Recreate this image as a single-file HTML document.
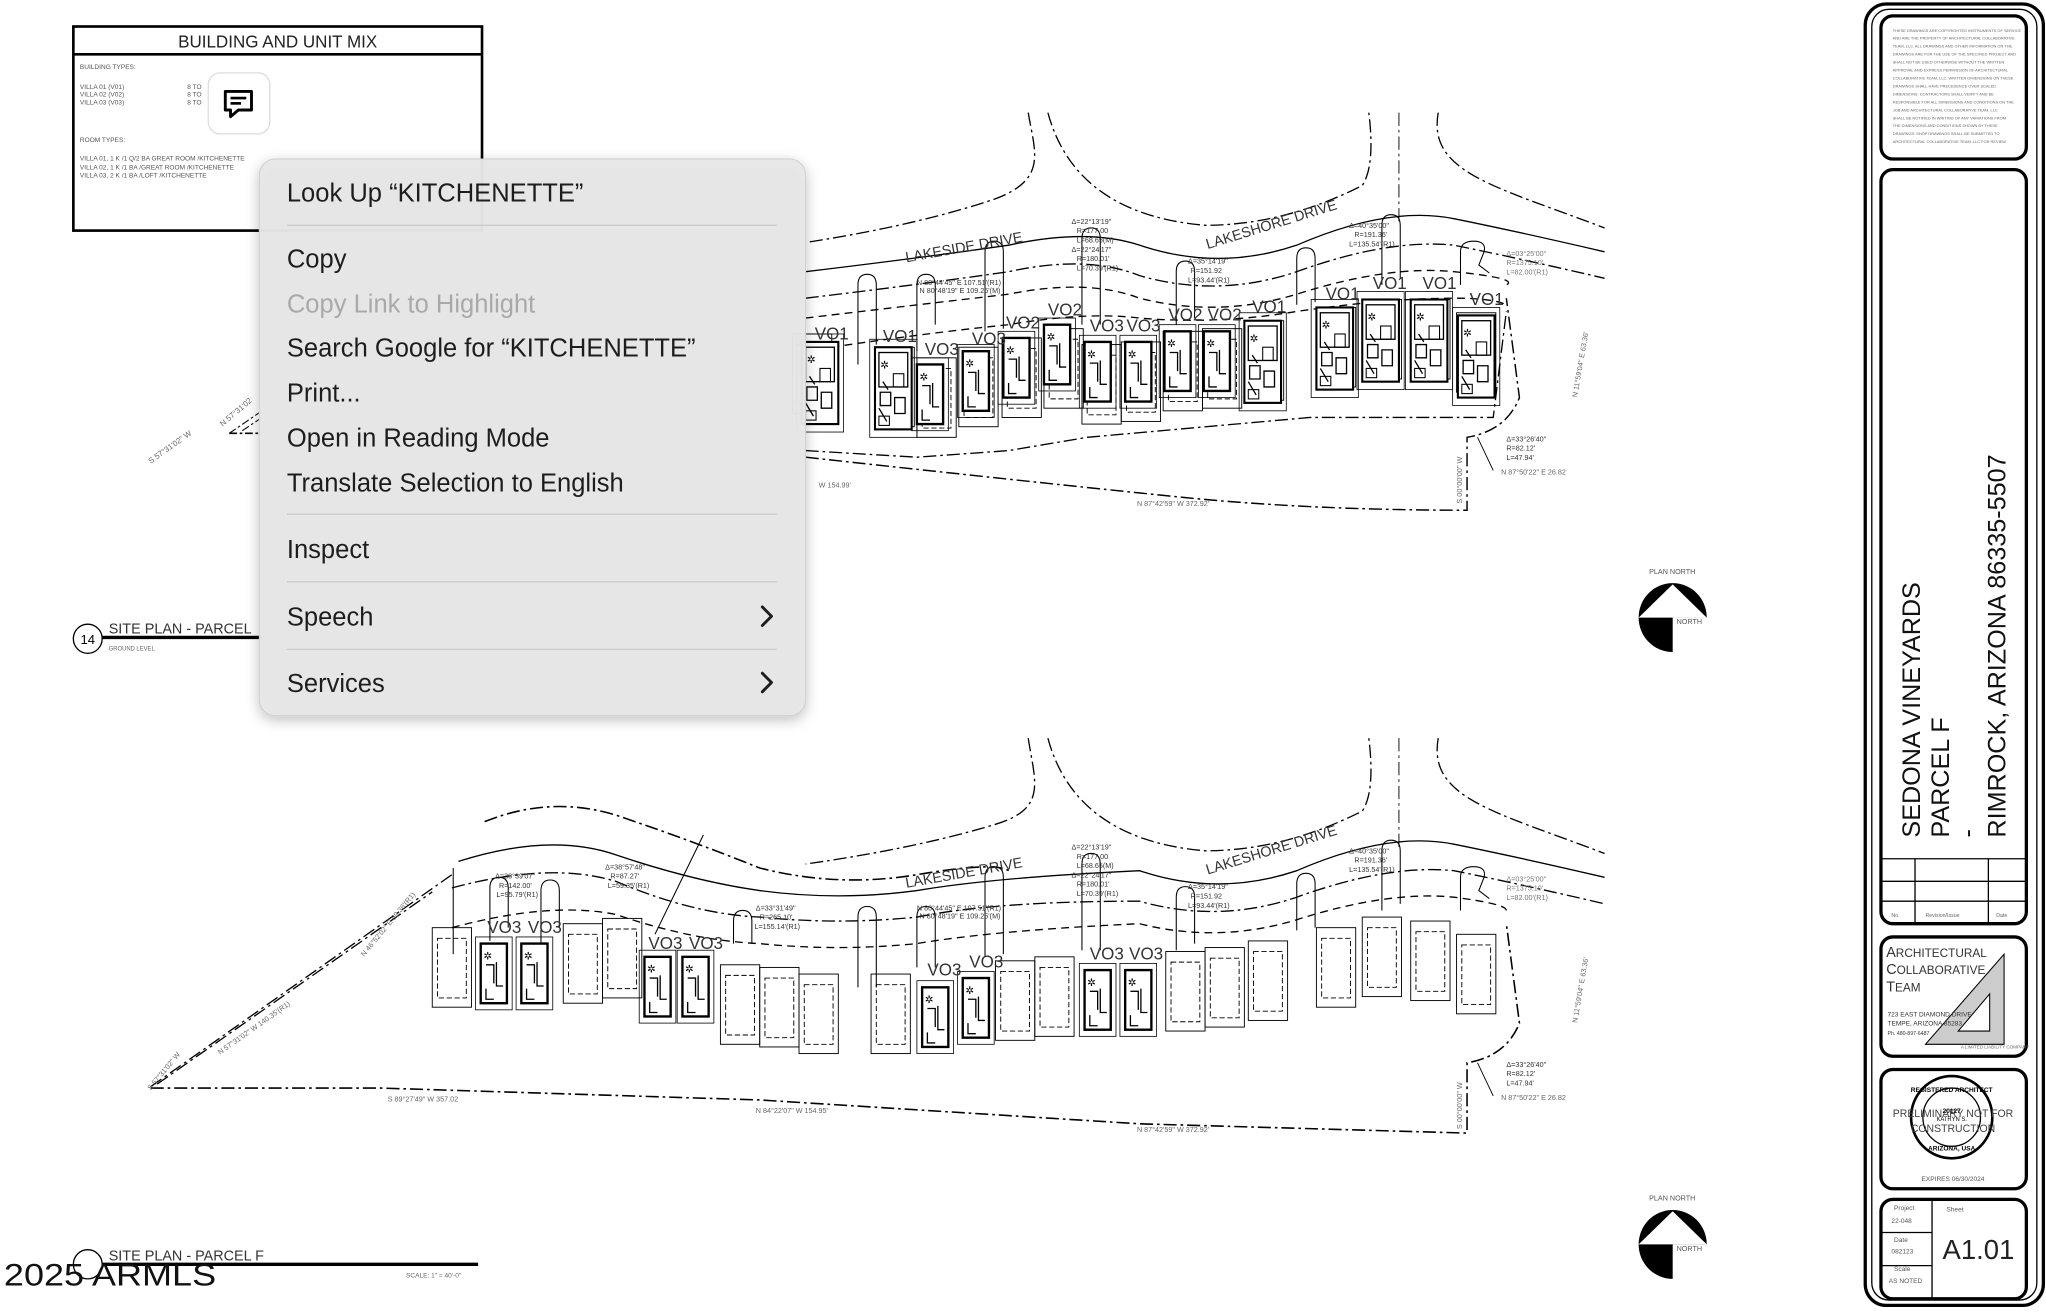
<!DOCTYPE html>
<html><head><meta charset="utf-8"><style>
html,body{margin:0;padding:0;background:#fff;width:2046px;height:1312px;overflow:hidden}
svg{display:block}
text{font-family:"Liberation Sans",sans-serif}
</style></head><body>
<svg width="2046" height="1312" viewBox="0 0 1562 990" preserveAspectRatio="none" xmlns="http://www.w3.org/2000/svg">
<defs>
<filter id="sh" x="-10%" y="-10%" width="120%" height="125%"><feDropShadow dx="0" dy="3" stdDeviation="5" flood-color="#000" flood-opacity="0.25"/></filter>
<g id="b">
 <rect x="0" y="0" width="28" height="62" fill="#fff" stroke="#000" stroke-width="1.6"/>
 <rect x="-4" y="-6" width="36" height="74" fill="none" stroke="#000" stroke-width="0.6"/>
 <rect x="3" y="4" width="22" height="26" fill="none" stroke="#000" stroke-width="1"/>
 <text x="4" y="16" font-size="8">✲</text>
 <rect x="14" y="20" width="8" height="10" fill="none" stroke="#000" stroke-width="0.8"/>
 <path d="M4 34 h8 v10 h-8 z M15 38 h8 v12 h-8z M3 46 l6 10 M6 26 l4 6" fill="none" stroke="#000" stroke-width="1"/>
 <rect x="3" y="52" width="8" height="7" fill="none" stroke="#000" stroke-width="0.8"/>
</g>
<g id="bs">
 <rect x="0" y="0" width="20" height="45" fill="#fff" stroke="#000" stroke-width="1.8"/>
 <rect x="-4" y="-5" width="28" height="55" fill="none" stroke="#000" stroke-width="0.6"/>
 <text x="2" y="12" font-size="8">✲</text>
 <path d="M4 16 h6 v14 M12 14 v18 h5 M4 34 v8 h6" fill="none" stroke="#000" stroke-width="1"/>
</g>
<g id="lot">
 <rect x="0" y="0" width="30" height="60" fill="none" stroke="#000" stroke-width="0.7"/>
 <rect x="4" y="8" width="22" height="45" fill="none" stroke="#000" stroke-width="0.7" stroke-dasharray="4 2"/>
</g>
</defs>

<!-- BUILDING AND UNIT MIX table -->
<rect x="56" y="20" width="312" height="154" fill="#fff" stroke="#000" stroke-width="2"/>
<line x1="56" y1="41" x2="368" y2="41" stroke="#000" stroke-width="2"/>
<text x="212" y="36" font-size="13" text-anchor="middle" fill="#222">BUILDING AND UNIT MIX</text>
<g font-size="5" fill="#555">
<text x="61" y="52">BUILDING TYPES:</text>
<text x="61" y="67">VILLA 01 (V01)</text><text x="143" y="67">8 TO</text>
<text x="61" y="73">VILLA 02 (V02)</text><text x="143" y="73">8 TO</text>
<text x="61" y="79">VILLA 03 (V03)</text><text x="143" y="79">8 TO</text>
<text x="61" y="107">ROOM TYPES:</text>
<text x="61" y="121">VILLA 01, 1 K /1 Q/2 BA GREAT ROOM /KITCHENETTE</text>
<text x="61" y="128">VILLA 02, 1 K /1 BA /GREAT ROOM /KITCHENETTE</text>
<text x="61" y="134">VILLA 03, 2 K /1 BA /LOFT /KITCHENETTE</text>
</g>
<rect x="159" y="55" width="47" height="46" rx="9" fill="#fff" stroke="#ddd"/>
<path d="M172 69 h20 v14 h-10 l-6 5 v-5 h-4 z" fill="none" stroke="#000" stroke-width="2.2" stroke-linejoin="round"/>
<line x1="176" y1="74" x2="188" y2="74" stroke="#000" stroke-width="2"/>
<line x1="176" y1="78" x2="184" y2="78" stroke="#000" stroke-width="2"/>

<!-- Left leftover drawing in top -->
<path d="M175 327 L200 310 M185 325 L200 315" stroke="#000" stroke-width="0.8" stroke-dasharray="6 2 2 2"/>
<line x1="175" y1="327" x2="200" y2="327" stroke="#000" stroke-width="1.2" stroke-dasharray="6 2 2 2"/>
<text x="115" y="350" font-size="6" fill="#666" transform="rotate(-35 115 350)">S 57°31'02" W</text>
<text x="170" y="322" font-size="6" fill="#666" transform="rotate(-40 170 322)">N 57°31'02</text>
<circle cx="67" cy="482" r="11" fill="none" stroke="#000" stroke-width="1"/>
<text x="67" y="486" font-size="10" text-anchor="middle">14</text>
<text x="83" y="478" font-size="11" fill="#333">SITE PLAN - PARCEL</text>
<line x1="78" y1="481" x2="200" y2="481" stroke="#000" stroke-width="2.5"/>
<text x="83" y="491" font-size="4.5" fill="#666">GROUND LEVEL</text>

<!-- ===== TOP DRAWING ===== -->
<g fill="none" stroke="#000" stroke-width="1">
 <path d="M785 85 C790 115 800 135 760 150 Q700 170 615 183" stroke-dasharray="10 3 2 3"/>
 <path d="M800 85 C815 140 860 165 920 170 Q980 170 1040 140 Q1050 125 1045 85" stroke-dasharray="10 3 2 3"/>
 <path d="M1068 85 L1068 170" stroke-dasharray="10 3 2 3" stroke-width="0.7"/>
 <path d="M1098 85 C1090 130 1140 140 1225 172" stroke-dasharray="10 3 2 3"/>
 <path d="M615 205 Q700 195 770 185 Q830 172 870 185 Q930 205 990 185 Q1060 155 1110 165 Q1160 175 1225 190"/>
 <path d="M615 225 Q700 215 770 205 Q830 192 870 208 Q930 225 990 205 Q1060 180 1110 185 Q1160 195 1225 210" stroke-dasharray="10 3 2 3"/>
 <path d="M615 240 Q700 230 770 222 Q830 210 870 225 Q930 240 990 222 Q1060 200 1110 205 Q1160 210 1150 215" stroke-dasharray="6 4"/>
 <path d="M615 265 Q700 252 770 245 Q830 235 870 240 Q930 245 990 235 Q1060 225 1110 225 Q1140 225 1150 230" stroke-dasharray="6 4"/>
 <path d="M615 340 L700 345 L770 340 L830 330 L1000 315 L1140 315 L1150 235" stroke-dasharray="10 3 2 3"/>
 <path d="M615 345 Q800 365 900 375 T1120 385 L1120 330 Q1150 325 1160 300 L1150 225" stroke-dasharray="10 3 2 3" stroke-width="1.1"/>
 <path d="M1128 330 L1140 355" stroke-width="0.7"/>
</g>
<!-- driveways -->
<g fill="none" stroke="#000" stroke-width="0.8">
 <path d="M655 275 V215 q0 -8 7 -8 q7 0 7 8 V260"/>
 <path d="M700 265 V215 q0 -8 7 -8 q7 0 7 8 V245"/>
 <path d="M752 250 V190 q0 -8 7 -8 q7 0 7 8 V248"/>
 <path d="M826 245 V180 q0 -8 7 -8 q7 0 7 8 V245"/>
 <path d="M898 245 V205 q0 -8 7 -8 q7 0 7 8 V240"/>
 <path d="M990 230 V195 q0 -8 7 -8 q7 0 7 8 V228"/>
 <path d="M1055 215 V170 q0 -8 7 -8 q7 0 7 8 V210"/>
 <path d="M1115 215 V190 q0 -8 10 -8 q10 0 8 8 l-4 10 l8 6"/>
</g>
<!-- lots -->
<g>
 <use href="#lot" x="605" y="252"/><use href="#lot" x="668" y="262"/><use href="#lot" x="700" y="270"/><use href="#lot" x="732" y="262"/>
 <use href="#lot" x="765" y="255"/><use href="#lot" x="797" y="248"/><use href="#lot" x="826" y="260"/><use href="#lot" x="856" y="258"/>
 <use href="#lot" x="888" y="250"/><use href="#lot" x="918" y="248"/><use href="#lot" x="950" y="242"/><use href="#lot" x="1005" y="232"/>
 <use href="#lot" x="1040" y="226"/><use href="#lot" x="1077" y="226"/><use href="#lot" x="1112" y="236"/>
</g>
<g>
 <use href="#b" x="612" y="258"/><use href="#b" x="668" y="262"/><use href="#bs" x="700" y="275"/><use href="#bs" x="735" y="265"/>
 <use href="#bs" x="766" y="255"/><use href="#bs" x="797" y="245"/><use href="#bs" x="828" y="258"/><use href="#bs" x="859" y="258"/>
 <use href="#bs" x="889" y="250"/><use href="#bs" x="919" y="250"/><use href="#b" x="950" y="242"/><use href="#b" x="1005" y="232"/>
 <use href="#b" x="1040" y="226"/><use href="#b" x="1077" y="226"/><use href="#b" x="1113" y="238"/>
</g>
<g font-size="13" fill="#333">
 <text x="622" y="256">VO1</text><text x="674" y="258">VO1</text><text x="706" y="268">VO3</text><text x="742" y="260">VO3</text>
 <text x="768" y="248">VO2</text><text x="800" y="238">VO2</text><text x="832" y="250">VO3</text><text x="860" y="250">VO3</text>
 <text x="892" y="242">VO2</text><text x="922" y="242">VO2</text><text x="956" y="236">VO1</text><text x="1012" y="226">VO1</text>
 <text x="1048" y="218">VO1</text><text x="1086" y="218">VO1</text><text x="1122" y="230">VO1</text>
</g>
<g font-size="11" fill="#333">
 <text x="692" y="198" transform="rotate(-10 692 198)">LAKESIDE DRIVE</text>
 <text x="922" y="188" transform="rotate(-17 922 188)">LAKESHORE DRIVE</text>
</g>
<g font-size="5.5" fill="#333">
 <text x="700" y="215">N 80°44'45" E   107.51'(R1)</text><text x="702" y="221">N 80°48'19" E   109.25'(M)</text>
 <text x="818" y="169">Δ=22°13'19"</text><text x="822" y="176">R=177.00</text><text x="822" y="183">L=68.65(M)</text>
 <text x="818" y="190">Δ=22°24'17"</text><text x="822" y="197">R=180.01'</text><text x="822" y="204">L=70.39'(R1)</text>
 <text x="907" y="199">Δ=35°14'19"</text><text x="909" y="206">R=151.92</text><text x="907" y="213">L=93.44'(R1)</text>
 <text x="1030" y="172">Δ=40°35'00"</text><text x="1034" y="179">R=191.36'</text><text x="1030" y="186">L=135.54'(R1)</text>
 <text x="1150" y="193" fill="#777">Δ=03°25'00"</text><text x="1150" y="200" fill="#777">R=1375.10'</text><text x="1150" y="207" fill="#777">L=82.00'(R1)</text>
 <text x="1150" y="333">Δ=33°26'40"</text><text x="1150" y="340">R=82.12'</text><text x="1150" y="347">L=47.94'</text>
 <text x="1146" y="358" fill="#666">N 87°50'22" E  26.82</text>
 <text x="868" y="382" fill="#666">N 87°42'59" W  372.92'</text>
 <text x="625" y="368" fill="#666">W  154.99'</text>
 <text x="1204" y="300" fill="#666" transform="rotate(-80 1204 300)">N 11°59'04" E  63.36'</text>
 <text x="1116" y="380" fill="#666" transform="rotate(-90 1116 380)">S 00°00'00" W</text>
</g>

<!-- PLAN NORTH top -->
<text x="1259" y="433" font-size="5.5" fill="#555">PLAN NORTH</text>
<g transform="translate(1277,466)">
 <circle r="26" fill="#000"/>
 <rect x="0" y="0" width="28" height="28" fill="#fff"/>
 <polygon points="0,-25 -26,0 26,0" fill="#fff"/>
 <text x="3" y="5" font-size="5.5" fill="#555">NORTH</text>
</g>
<text x="1259" y="906" font-size="5.5" fill="#555">PLAN NORTH</text>
<g transform="translate(1277,939)">
 <circle r="26" fill="#000"/>
 <rect x="0" y="0" width="28" height="28" fill="#fff"/>
 <polygon points="0,-25 -26,0 26,0" fill="#fff"/>
 <text x="3" y="5" font-size="5.5" fill="#555">NORTH</text>
</g>

<!-- ===== BOTTOM DRAWING ===== -->
<g fill="none" stroke="#000" stroke-width="1">
 <path d="M785 557 C790 590 800 610 760 622 Q700 640 615 652" stroke-dasharray="10 3 2 3"/>
 <path d="M800 557 C815 612 860 637 920 642 Q980 642 1040 612 Q1050 597 1045 557" stroke-dasharray="10 3 2 3"/>
 <path d="M1068 557 L1068 642" stroke-dasharray="10 3 2 3" stroke-width="0.7"/>
 <path d="M1098 557 C1090 602 1140 612 1225 644" stroke-dasharray="10 3 2 3"/>
 <path d="M370 620 Q420 600 470 615 Q530 635 580 655 Q640 670 700 660 Q760 650 770 657" stroke-dasharray="10 3 2 3" stroke-width="1.2"/>
 <path d="M350 650 Q420 628 470 645 Q530 665 580 672 Q640 680 700 672 Q760 662 870 657 Q930 677 990 657 Q1060 627 1110 637 Q1160 647 1225 662"/>
 <path d="M345 670 Q420 650 470 665 Q530 690 580 692 Q640 698 700 692 Q760 680 870 680 Q930 697 990 677 Q1060 652 1110 657 Q1160 667 1225 682" stroke-dasharray="10 3 2 3"/>
 <path d="M345 700 Q420 680 470 690 Q530 710 580 712 Q640 718 700 712 Q760 702 870 697 Q930 712 990 694 Q1060 672 1110 677 Q1150 682 1150 687" stroke-dasharray="6 4"/>
 <path d="M115 820 L345 660 M120 818 L330 673" stroke-dasharray="10 3 2 3"/>
 <path d="M115 821 L290 821 L580 830 L870 848 L1120 855 L1120 802 Q1150 797 1160 772 L1150 697" stroke-dasharray="10 3 2 3" stroke-width="1.2"/>
 <path d="M500 705 L537 630" stroke-width="0.8"/>
 <path d="M1128 802 L1140 827" stroke-width="0.7"/>
</g>
<g fill="none" stroke="#000" stroke-width="0.8">
 <path d="M346 720 V655"/>
 <path d="M374 710 V670 q0 -8 7 -8 q7 0 7 8 V700"/>
 <path d="M413 712 V672 q0 -8 7 -8 q7 0 7 8 V700"/>
 <path d="M560 712 V695 q0 -8 7 -8 q7 0 7 8 V712"/>
 <path d="M655 745 V692 q0 -8 7 -8 q7 0 7 8 V745"/>
 <path d="M700 730 V692 q0 -8 7 -8 q7 0 7 8 V730"/>
 <path d="M752 722 V662 q0 -8 7 -8 q7 0 7 8 V720"/>
 <path d="M826 717 V652 q0 -8 7 -8 q7 0 7 8 V717"/>
 <path d="M898 717 V677 q0 -8 7 -8 q7 0 7 8 V712"/>
 <path d="M990 702 V667 q0 -8 7 -8 q7 0 7 8 V700"/>
 <path d="M1055 687 V642 q0 -8 7 -8 q7 0 7 8 V682"/>
 <path d="M1115 687 V662 q0 -8 10 -8 q10 0 8 8 l-4 10 l8 6"/>
</g>
<g>
 <use href="#lot" x="330" y="700"/><use href="#lot" x="430" y="697"/><use href="#lot" x="460" y="693"/><use href="#lot" x="550" y="728"/>
 <use href="#lot" x="580" y="730"/><use href="#lot" x="610" y="735"/><use href="#lot" x="665" y="735"/><use href="#lot" x="760" y="725"/>
 <use href="#lot" x="790" y="722"/><use href="#lot" x="890" y="718"/><use href="#lot" x="920" y="715"/><use href="#lot" x="953" y="710"/>
 <use href="#lot" x="1005" y="700"/><use href="#lot" x="1040" y="692"/><use href="#lot" x="1077" y="695"/><use href="#lot" x="1112" y="705"/>
</g>
<g>
 <use href="#bs" x="367" y="712"/><use href="#bs" x="398" y="712"/><use href="#bs" x="492" y="722"/><use href="#bs" x="521" y="722"/>
 <use href="#bs" x="704" y="745"/><use href="#bs" x="735" y="738"/><use href="#bs" x="828" y="732"/><use href="#bs" x="859" y="732"/>
</g>
<g font-size="13" fill="#333">
 <text x="372" y="704">VO3</text><text x="403" y="704">VO3</text><text x="495" y="716">VO3</text><text x="526" y="716">VO3</text>
 <text x="708" y="736">VO3</text><text x="740" y="730">VO3</text><text x="832" y="724">VO3</text><text x="862" y="724">VO3</text>
</g>
<g font-size="11" fill="#333">
 <text x="692" y="670" transform="rotate(-10 692 670)">LAKESIDE DRIVE</text>
 <text x="922" y="660" transform="rotate(-17 922 660)">LAKESHORE DRIVE</text>
</g>
<g font-size="5.5" fill="#333">
 <text x="378" y="663">Δ=38°39'07"</text><text x="381" y="670">R=142.00'</text><text x="379" y="677">L=95.79'(R1)</text>
 <text x="462" y="656">Δ=38°57'48"</text><text x="466" y="663">R=87.27'</text><text x="464" y="670">L=59.35'(R1)</text>
 <text x="577" y="687">Δ=33°31'49"</text><text x="580" y="694">R=265.10'</text><text x="576" y="701">L=155.14'(R1)</text>
 <text x="700" y="687">N 80°44'45" E   107.51'(R1)</text><text x="702" y="693">N 80°48'19" E   109.25'(M)</text>
 <text x="818" y="641">Δ=22°13'19"</text><text x="822" y="648">R=177.00</text><text x="822" y="655">L=68.65(M)</text>
 <text x="818" y="662">Δ=22°24'17"</text><text x="822" y="669">R=180.01'</text><text x="822" y="676">L=70.39'(R1)</text>
 <text x="907" y="671">Δ=35°14'19"</text><text x="909" y="678">R=151.92</text><text x="907" y="685">L=93.44'(R1)</text>
 <text x="1030" y="644">Δ=40°35'00"</text><text x="1034" y="651">R=191.36'</text><text x="1030" y="658">L=135.54'(R1)</text>
 <text x="1150" y="665" fill="#777">Δ=03°25'00"</text><text x="1150" y="672" fill="#777">R=1375.10'</text><text x="1150" y="679" fill="#777">L=82.00'(R1)</text>
 <text x="1150" y="805">Δ=33°26'40"</text><text x="1150" y="812">R=82.12'</text><text x="1150" y="819">L=47.94'</text>
 <text x="1146" y="830" fill="#666">N 87°50'22" E  26.82</text>
 <text x="868" y="854" fill="#666">N 87°42'59" W  372.92'</text>
 <text x="577" y="840" fill="#666">N 84°22'07" W  154.95'</text>
 <text x="296" y="831" fill="#666">S 89°27'49" W  357.02</text>
 <text x="1204" y="772" fill="#666" transform="rotate(-80 1204 772)">N 11°59'04" E  63.36'</text>
 <text x="1116" y="852" fill="#666" transform="rotate(-90 1116 852)">S 00°00'00" W</text>
 <text x="168" y="796" fill="#666" transform="rotate(-35 168 796)">N 57°31'02" W  140.35'(R1)</text>
 <text x="278" y="722" fill="#666" transform="rotate(-50 278 722)">N 46°52'02" E  69.36'(R1)</text>
 <text x="115" y="823" fill="#666" transform="rotate(-50 115 823)">S 57°31'02" W</text>
</g>

<!-- bottom-left caption -->
<circle cx="67" cy="954" r="11" fill="none" stroke="#000" stroke-width="1"/>
<text x="83" y="951" font-size="11" fill="#333">SITE PLAN - PARCEL F</text>
<line x1="78" y1="954" x2="365" y2="954" stroke="#000" stroke-width="2.5"/>
<text x="310" y="964" font-size="5" fill="#666">SCALE: 1" = 40'-0"</text>
<text x="3" y="970" font-size="24" fill="#111" textLength="162" lengthAdjust="spacingAndGlyphs">2025 ARMLS</text>

<!-- ===== TITLE BLOCK ===== -->
<g fill="none" stroke="#000">
 <rect x="1424" y="3" width="136" height="982" rx="16" stroke-width="2.5"/>
 <rect x="1429" y="7" width="126" height="974" rx="13" stroke-width="1"/>
 <rect x="1436" y="12" width="111" height="108" rx="9" stroke-width="2.5"/>
 <rect x="1436" y="128" width="111" height="569" rx="9" stroke-width="2.5"/>
 <path d="M1436 648 H1547 M1436 665 H1547 M1436 680 H1547 M1462 648 V697 M1518 648 V697" stroke-width="1"/>
 <rect x="1436" y="707" width="111" height="90" rx="9" stroke-width="2.5"/>
 <rect x="1436" y="807" width="111" height="90" rx="9" stroke-width="2.5"/>
 <rect x="1436" y="905" width="111" height="75" rx="9" stroke-width="2.5"/>
 <path d="M1475 905 V980 M1436 930 H1475 M1436 955 H1475" stroke-width="1"/>
</g>
<g font-size="3" fill="#666">
 <text x="1445" y="24">THESE DRAWINGS ARE COPYRIGHTED INSTRUMENTS OF SERVICE</text>
 <text x="1445" y="30">AND ARE THE PROPERTY OF ARCHITECTURAL COLLABORATIVE</text>
 <text x="1445" y="36">TEAM, LLC. ALL DRAWINGS AND OTHER INFORMATION ON THE</text>
 <text x="1445" y="42">DRAWINGS ARE FOR THE USE OF THE SPECIFIED PROJECT AND</text>
 <text x="1445" y="48">SHALL NOT BE USED OTHERWISE WITHOUT THE WRITTEN</text>
 <text x="1445" y="54">APPROVAL AND EXPRESS PERMISSION OF ARCHITECTURAL</text>
 <text x="1445" y="60">COLLABORATIVE TEAM, LLC. WRITTEN DIMENSIONS ON THESE</text>
 <text x="1445" y="66">DRAWINGS SHALL HAVE PRECEDENCE OVER SCALED</text>
 <text x="1445" y="72">DIMENSIONS. CONTRACTORS SHALL VERIFY AND BE</text>
 <text x="1445" y="78">RESPONSIBLE FOR ALL DIMENSIONS AND CONDITIONS ON THE</text>
 <text x="1445" y="84">JOB AND ARCHITECTURAL COLLABORATIVE TEAM, LLC</text>
 <text x="1445" y="90">SHALL BE NOTIFIED IN WRITING OF ANY VARIATIONS FROM</text>
 <text x="1445" y="96">THE DIMENSIONS AND CONDITIONS SHOWN BY THESE</text>
 <text x="1445" y="102">DRAWINGS. SHOP DRAWINGS SHALL BE SUBMITTED TO</text>
 <text x="1445" y="108">ARCHITECTURAL COLLABORATIVE TEAM, LLC FOR REVIEW.</text>
</g>
<g font-size="19" fill="#111">
 <text x="1466" y="632" transform="rotate(-90 1466 632)">SEDONA VINEYARDS</text>
 <text x="1488" y="632" transform="rotate(-90 1488 632)">PARCEL F</text>
 <text x="1508" y="632" transform="rotate(-90 1508 632)">-</text>
 <text x="1531" y="632" transform="rotate(-90 1531 632)">RIMROCK, ARIZONA 86335-5507</text>
</g>
<g font-size="4" fill="#666"><text x="1444" y="692">No.</text><text x="1470" y="692">Revision/Issue</text><text x="1524" y="692">Date</text></g>
<polygon points="1530,720 1530,788 1470,788" fill="#ccc" stroke="#000" stroke-width="0.8"/>
<polygon points="1519,750 1519,778 1495,778" fill="#fff" stroke="#000" stroke-width="0.8"/>
<g fill="#333">
 <text x="1440" y="722" font-size="11">A<tspan font-size="9">RCHITECTURAL</tspan></text>
 <text x="1440" y="735" font-size="11">C<tspan font-size="9">OLLABORATIVE</tspan></text>
 <text x="1440" y="748" font-size="11">T<tspan font-size="9">EAM</tspan></text>
 <text x="1441" y="767" font-size="5">723 EAST DIAMOND DRIVE</text>
 <text x="1441" y="774" font-size="5">TEMPE, ARIZONA  85283</text>
 <text x="1441" y="781" font-size="4">Ph. 480-897-6487</text>
 <text x="1497" y="791" font-size="3.5" fill="#666">A LIMITED LIABILITY COMPANY</text>
</g>
<circle cx="1490" cy="843" r="31" fill="none" stroke="#000" stroke-width="2"/>
<circle cx="1490" cy="843" r="22" fill="none" stroke="#000" stroke-width="1"/>
<text x="1490" y="824" font-size="5" text-anchor="middle" font-weight="bold">REGISTERED ARCHITECT</text>
<text x="1490" y="840" font-size="5" text-anchor="middle" font-weight="bold">20127</text>
<text x="1490" y="846" font-size="4.5" text-anchor="middle">KATRYN S.</text>
<text x="1490" y="868" font-size="5" text-anchor="middle" font-weight="bold">ARIZONA, USA</text>
<text x="1491" y="843" font-size="8" text-anchor="middle" fill="#444">PRELIMINARY NOT FOR</text>
<text x="1491" y="854" font-size="8" text-anchor="middle" fill="#444">CONSTRUCTION</text>
<text x="1491" y="891" font-size="5" text-anchor="middle" fill="#555">EXPIRES 06/30/2024</text>
<g font-size="5" fill="#555">
 <text x="1446" y="913">Project</text><text x="1444" y="923">22-048</text>
 <text x="1446" y="937">Date</text><text x="1444" y="946">082123</text>
 <text x="1446" y="959">Scale</text><text x="1442" y="968">AS NOTED</text>
 <text x="1486" y="914">Sheet</text>
</g>
<text x="1483" y="950" font-size="21" fill="#222">A1.01</text>

<!-- ===== CONTEXT MENU ===== -->
<rect x="198" y="120" width="417" height="420" rx="12" fill="#e6e6e6" fill-opacity="0.97" stroke="#cfcfcf" stroke-width="0.8" filter="url(#sh)"/>
<g stroke="#cbcbcb" stroke-width="1">
 <line x1="219" y1="170" x2="593" y2="170"/>
 <line x1="219" y1="388" x2="593" y2="388"/>
 <line x1="219" y1="439" x2="593" y2="439"/>
 <line x1="219" y1="490" x2="593" y2="490"/>
</g>
<g font-size="19.5" fill="#1d1d1d">
 <text x="219" y="152">Look Up “KITCHENETTE”</text>
 <text x="219" y="202">Copy</text>
 <text x="219" y="236" fill="#a9a9a9">Copy Link to Highlight</text>
 <text x="219" y="269">Search Google for “KITCHENETTE”</text>
 <text x="219" y="303">Print...</text>
 <text x="219" y="337">Open in Reading Mode</text>
 <text x="219" y="371">Translate Selection to English</text>
 <text x="219" y="421">Inspect</text>
 <text x="219" y="472">Speech</text>
 <text x="219" y="522">Services</text>
</g>
<path d="M582 458 L589 465 L582 472 M582 508 L589 515 L582 522" fill="none" stroke="#1d1d1d" stroke-width="2.2" stroke-linecap="round" stroke-linejoin="round"/>
</svg>
</body></html>
